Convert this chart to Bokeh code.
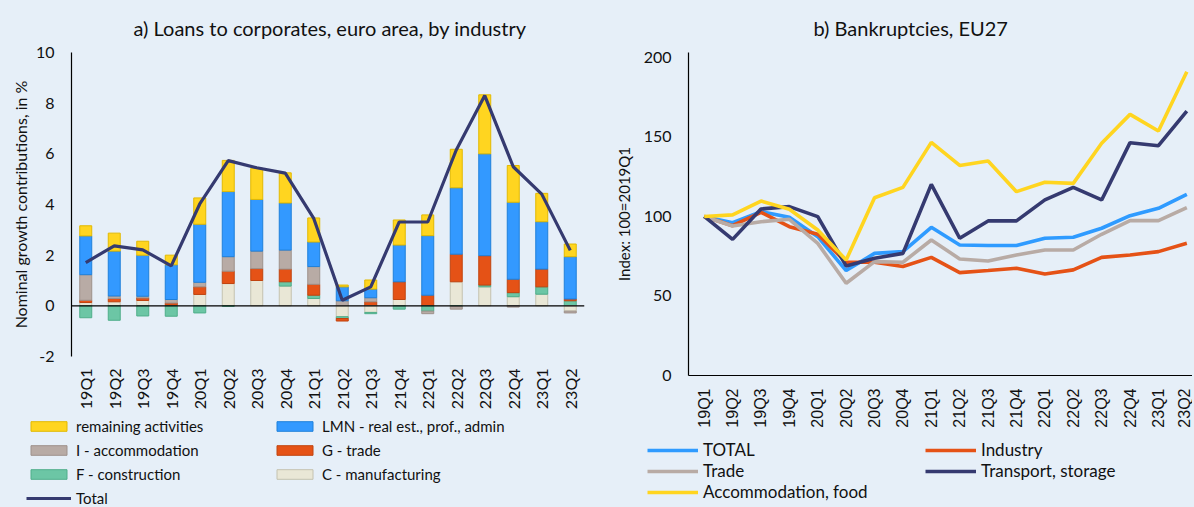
import numpy as np
from bokeh.plotting import figure
from bokeh.models import (ColumnDataSource, FactorRange, Range1d, FixedTicker,
                          Legend, LegendItem, Span, Title)
from bokeh.layouts import row, column
from bokeh.embed import file_html
from bokeh.resources import INLINE

BG = "#E6EFF8"
FONT = "Lato"
TXT = "#111111"

# ---------------- data: panel a ----------------
quarters = ["19Q1", "19Q2", "19Q3", "19Q4", "20Q1", "20Q2", "20Q3", "20Q4",
            "21Q1", "21Q2", "21Q3", "21Q4", "22Q1", "22Q2", "22Q3", "22Q4",
            "23Q1", "23Q2"]
manuf_c = [0.13, 0.16, 0.21, 0.02, 0.45, 0.88, 1.00, 0.78, 0.29, -0.43, -0.26, 0.25,
           0.00, 0.95, 0.75, 0.36, 0.46, -0.21]
constr_f = [-0.47, -0.57, -0.40, -0.41, -0.28, -0.02, 0.00, 0.17, 0.13, -0.07, -0.05, -0.13,
            -0.21, -0.03, 0.07, 0.16, 0.29, 0.20]
trade_g = [0.09, 0.13, 0.10, 0.09, 0.30, 0.49, 0.47, 0.50, 0.43, -0.10, 0.16, 0.70,
           0.42, 1.09, 1.16, 0.53, 0.70, 0.07]
accom_i = [1.01, 0.10, 0.07, 0.14, 0.18, 0.57, 0.69, 0.75, 0.70, 0.20, 0.16, 0.00,
           -0.10, -0.10, 0.00, -0.05, 0.00, -0.07]
lmn = [1.53, 1.77, 1.62, 1.37, 2.29, 2.57, 2.04, 1.86, 0.97, 0.55, 0.34, 1.45,
       2.35, 2.62, 4.02, 3.04, 1.87, 1.67]
remaining = [0.40, 0.71, 0.55, 0.38, 1.04, 1.23, 1.23, 1.19, 0.95, 0.07, 0.36, 0.99,
             0.82, 1.52, 2.33, 1.45, 1.12, 0.50]
total_loans = [1.71, 2.37, 2.21, 1.58, 4.02, 5.73, 5.45, 5.24, 3.45, 0.22, 0.75, 3.31,
               3.31, 6.15, 8.30, 5.49, 4.41, 2.19]
yticks_a = [-2, 0, 2, 4, 6, 8, 10]

# ---------------- data: panel b ----------------
bk_total = [100, 96.1, 103.0, 99.5, 87.3, 66.0, 76.8, 77.9, 93.2, 82.1, 81.7, 81.7,
            86.3, 86.9, 92.6, 100.5, 105.1, 113.9]
bk_industry = [100, 94.2, 102.6, 93.6, 88.8, 71.2, 71.2, 68.5, 74.3, 64.7, 66.0, 67.4,
               63.8, 66.4, 74.3, 75.8, 77.9, 83.1]
bk_trade = [100, 94.0, 96.7, 98.2, 83.1, 58.0, 71.6, 71.2, 85.2, 73.3, 72.0, 75.8,
            78.9, 78.9, 88.8, 97.4, 97.4, 105.6]
bk_transport = [100, 85.6, 104.7, 106.2, 99.9, 68.9, 73.7, 76.8, 120.2, 86.3, 97.2, 97.2,
                110.4, 118.3, 110.4, 146.4, 144.5, 166.3]
bk_accom = [100, 101.0, 109.7, 104.5, 91.5, 72.6, 111.8, 118.3, 146.6, 132.1, 134.9, 115.6,
            121.5, 120.8, 146.0, 164.2, 153.7, 191.0]
yticks_b = [0, 50, 100, 150, 200]

# ---------------- styles ----------------
series = [
    ("C - manufacturing", "c", manuf_c, "#E9E7D6", "#C4C2B0"),
    ("F - construction", "f", constr_f, "#6CC6A5", "#4FAE8A"),
    ("G - trade", "g", trade_g, "#E55216", "#C0440F"),
    ("I - accommodation", "i", accom_i, "#B8ABA5", "#9E918B"),
    ("LMN - real est., prof., admin", "lmn", lmn, "#3399FF", "#1F80DA"),
    ("remaining activities", "rem", remaining, "#FFD520", "#E2B900"),
]
line_series = [
    ("TOTAL", "total", bk_total, "#2F9BFF"),
    ("Industry", "industry", bk_industry, "#E55216"),
    ("Trade", "trade", bk_trade, "#B8ABA5"),
    ("Transport, storage", "transport", bk_transport, "#353A70"),
    ("Accommodation, food", "accom", bk_accom, "#FFD520"),
]
TOTAL_COLOR = "#353A70"
LW_B = 3.6


def make_title(text, align, offset, standoff):
    return Title(text=text, align=align, offset=offset, standoff=standoff,
                 text_font=FONT, text_font_size="20px", text_font_style="normal",
                 text_color=TXT)


def style_axis(ax):
    ax.major_tick_line_color = None
    ax.minor_tick_line_color = None
    ax.major_tick_out = 0
    ax.major_tick_in = 0
    ax.minor_tick_out = 0
    ax.major_label_text_color = TXT
    ax.axis_label_text_font_style = "normal"
    ax.axis_label_text_color = TXT


def no_align(fig):
    try:
        fig.frame_align = False
    except Exception:
        pass


def legend_fig(w, h):
    f = figure(width=w, height=h, x_range=Range1d(0, 1), y_range=Range1d(0, 1),
               x_axis_type=None, y_axis_type=None, min_border=0,
               output_backend="svg", toolbar_location=None,
               background_fill_color=BG, border_fill_color=BG, outline_line_color=None)
    no_align(f)
    return f


# ---------------- panel a ----------------
data = {"q": quarters, "total": total_loans}
for _, k, vals, _, _ in series:
    arr = np.array(vals, dtype=float)
    data["p_" + k] = np.clip(arr, 0, None)
    data["n_" + k] = np.clip(arr, None, 0)
    data["pa_" + k] = (arr > 0).astype(float)
    data["na_" + k] = (arr < 0).astype(float)
src = ColumnDataSource(data)

pa = figure(x_range=FactorRange(*quarters, range_padding=0), y_range=Range1d(-2, 10),
            frame_width=513, frame_height=304,
            min_border_left=71, min_border_right=20, min_border_top=46, min_border_bottom=60,
            output_backend="svg", toolbar_location=None,
            background_fill_color=BG, border_fill_color=BG, outline_line_color=None,
            title=make_title("a) Loans to corporates, euro area, by industry", "left", 62, 26))
no_align(pa)

keys = [s[1] for s in series]
fills = [s[3] for s in series]
lines = [s[4] for s in series]
pa.vbar_stack(["p_" + k for k in keys], x="q", width=0.42, source=src,
              fill_color=fills, line_color=lines, line_width=1,
              line_alpha=["pa_" + k for k in keys])
pa.vbar_stack(["n_" + k for k in keys], x="q", width=0.42, source=src,
              fill_color=fills, line_color=lines, line_width=1,
              line_alpha=["na_" + k for k in keys])
pa.add_layout(Span(location=0, dimension="width", line_color="#000000", line_width=1.3))
pa.line("q", "total", source=src, line_color=TOTAL_COLOR, line_width=3.2)

pa.xgrid.grid_line_color = None
pa.ygrid.grid_line_color = None
pa.yaxis.ticker = FixedTicker(ticks=yticks_a)
pa.yaxis.major_label_overrides = {t: str(t) for t in yticks_a}
pa.yaxis.axis_line_color = "#000000"
pa.yaxis.axis_line_width = 1.2
pa.yaxis.major_label_standoff = 17
pa.yaxis.axis_label = "Nominal growth contributions, in %"
pa.yaxis.axis_label_standoff = 3
pa.xaxis.axis_line_color = None
pa.xaxis.major_label_orientation = np.pi / 2
pa.xaxis.major_label_standoff = 12
for ax in (pa.xaxis, pa.yaxis):
    style_axis(ax)
    ax.major_label_text_font = FONT
    ax.major_label_text_font_size = "16px"
    ax.axis_label_text_font = FONT
    ax.axis_label_text_font_size = "16px"

# legend strip for panel a: legend keys styled like the bars/line above
la = legend_fig(604, 89)
key_src = ColumnDataSource(dict(x=[np.nan], top=[np.nan]))
sw = {}
for name, k, _, fc, lc in series:
    sw[k] = la.vbar(x="x", top="top", width=0.1, source=key_src, fill_color=fc, line_color=lc)
sw["total"] = la.line(x="x", y="top", source=key_src, line_color=TOTAL_COLOR, line_width=3.2)
names_a = {s[1]: s[0] for s in series}
names_a["total"] = "Total"
order_a = ["rem", "i", "f", "total", "lmn", "g", "c"]
leg_a = Legend(items=[LegendItem(label=names_a[k], renderers=[sw[k]]) for k in order_a],
               location=(26, -2), ncols=2, orientation="vertical",
               glyph_width=45, glyph_height=12, label_height=19, label_standoff=5,
               label_width=191, spacing=5, padding=0, margin=0,
               border_line_color=None, background_fill_alpha=0,
               label_text_font=FONT, label_text_font_size="15px", label_text_color=TXT)
la.add_layout(leg_a)

# ---------------- panel b ----------------
xs = list(range(len(quarters)))
bdata = {"x": xs}
for _, k, vals, _ in line_series:
    bdata[k] = vals
srcb = ColumnDataSource(bdata)
pb = figure(x_range=Range1d(-0.553, 17.2), y_range=Range1d(0, 203.1),
            frame_width=504, frame_height=323,
            min_border_left=84, min_border_right=0, min_border_top=46, min_border_bottom=62,
            output_backend="svg", toolbar_location=None,
            background_fill_color=BG, border_fill_color=BG, outline_line_color=None,
            title=make_title("b) Bankruptcies, EU27", "left", 125, 26))
no_align(pb)
for _, k, _, col in line_series:
    pb.line("x", k, source=srcb, line_color=col, line_width=LW_B)

pb.xgrid.grid_line_color = None
pb.ygrid.grid_line_color = None
pb.yaxis.ticker = FixedTicker(ticks=yticks_b)
pb.xaxis.ticker = FixedTicker(ticks=xs)
pb.xaxis.major_label_overrides = {i: q for i, q in zip(xs, quarters)}
pb.xaxis.major_label_orientation = np.pi / 2
pb.xaxis.major_label_standoff = 13
pb.xaxis.major_label_text_font = "Liberation Sans"
pb.xaxis.major_label_text_font_size = "16px"
for ax in (pb.xaxis, pb.yaxis):
    style_axis(ax)
    ax.axis_line_color = "#000000"
    ax.axis_line_width = 1.2
pb.yaxis.major_label_standoff = 17
pb.yaxis.major_label_text_font = FONT
pb.yaxis.major_label_text_font_size = "16px"
pb.yaxis.axis_label = "Index: 100=2019Q1"
pb.yaxis.axis_label_standoff = 8
pb.yaxis.axis_label_text_font = FONT
pb.yaxis.axis_label_text_font_size = "15px"

lb = legend_fig(582, 68)
swb = {}
for name, k, _, col in line_series:
    swb[k] = lb.line(x="x", y="top", source=key_src, line_color=col, line_width=LW_B)
names_b = {s[1]: s[0] for s in line_series}
order_b = ["total", "trade", "accom", "industry", "transport"]
leg_b = Legend(items=[LegendItem(label=names_b[k], renderers=[swb[k]]) for k in order_b],
               location=(43, 3), ncols=2, orientation="vertical",
               glyph_width=51, glyph_height=12, label_height=16, label_standoff=5,
               label_width=222, spacing=0, padding=0, margin=0,
               border_line_color=None, background_fill_alpha=0,
               label_text_font=FONT, label_text_font_size="17px", label_text_color=TXT)
lb.add_layout(leg_b)

layout = row(column(pa, la), column(pb, lb))
html = file_html(layout, INLINE)
html = html.replace("</head>",
                    "<style>html,body{background:#E6EFF8;overflow:hidden;}</style></head>", 1)
open("out.html", "w").write(html)
